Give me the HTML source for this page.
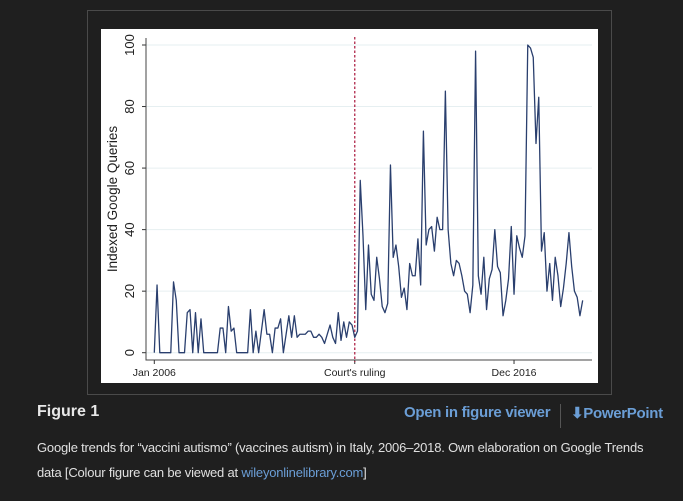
<!DOCTYPE html>
<html><head><meta charset="utf-8">
<style>
body{margin:0;width:683px;height:501px;background:#1f1f1f;overflow:hidden;font-family:"Liberation Sans",sans-serif;position:relative}
#frame{position:absolute;left:87px;top:10px;width:525px;height:385px;border:1px solid #4a4a4a;box-sizing:border-box}
#chart{position:absolute;left:101px;top:29px}
.t{position:absolute;white-space:nowrap}
</style></head><body>
<div id="frame"></div>
<svg id="chart" width="497" height="354" style="background:#fff">
<g id="g" transform="translate(-101,-29)"></g>
</svg>
<div class="t" style="left:37px;top:403px;color:#e8e8e8;font-weight:bold;font-size:16px">Figure 1</div>
<div class="t" style="left:404px;top:404px;color:#6b9ed6;font-size:15px;font-weight:bold;letter-spacing:-0.3px">Open in figure viewer</div>
<div style="position:absolute;left:560px;top:404px;width:1px;height:24px;background:#555"></div>
<div class="t" style="left:571px;top:404px;color:#6b9ed6;font-size:15px;font-weight:bold;letter-spacing:-0.3px">⬇PowerPoint</div>
<div class="t" style="left:37px;top:440px;color:#e0e0e0;font-size:13px;letter-spacing:-0.2px">Google trends for “vaccini autismo” (vaccines autism) in Italy, 2006–2018. Own elaboration on Google Trends</div>
<div class="t" style="left:37px;top:465px;color:#e0e0e0;font-size:13px;letter-spacing:-0.2px">data [Colour figure can be viewed at <span style="color:#6b9ed6">wileyonlinelibrary.com</span>]</div>
<script>
const values=[0,22,0,0,0,0,0,23,17,0,0,0,13,14,0,13,0,11,0,0,0,0,0,0,8,8,0,15,7,8,0,0,0,0,0,14,0,7,0,7,14,6,6,0,8,8,11,0,6,12,5,12,5,6,6,6,7,7,5,5,6,5,3,6,9,5,3,13,4,10,5,10,9,5,7,56,38,14,35,19,17,31,24,15,13,16,61,31,35,28,18,21,14,29,25,25,37,22,72,35,40,41,33,44,40,40,85,40,29,25,30,29,25,20,19,13,22,98,25,19,31,14,24,27,40,28,26,12,17,24,41,19,38,34,31,38,100,99,96,68,83,33,39,20,29,17,31,25,15,21,29,39,28,20,18,12,17];
const yTicks=[0,20,40,60,80,100];
const xTickMonths=[0,73,131];
const xTickLabels=["Jan 2006","Court's ruling","Dec 2016"];
const rulingMonth=73;
const NS="http://www.w3.org/2000/svg";
const g=document.getElementById('g');
const X=m=>154.3+m*2.746, Y=v=>352.7-v*3.077;
function el(t,a){const e=document.createElementNS(NS,t);for(const k in a)e.setAttribute(k,a[k]);g.appendChild(e);return e;}
yTicks.forEach(v=>{
 const l=el('line',{x1:146,x2:592,y1:Y(v),y2:Y(v),stroke:'#e6eff1','stroke-width':1});
 
 
 const tk=el('line',{x1:142,x2:146,y1:Y(v),y2:Y(v),stroke:'#333'});
 
 
 const t=el('text',{x:0,y:0,transform:`translate(134,${Y(v)}) rotate(-90)`,'text-anchor':'middle','font-size':13,fill:'#222'});
 t.textContent=v;
 
 
});
const ax=el('path',{d:'M146,38 V360 H592',fill:'none',stroke:'#444','stroke-width':1});


xTickMonths.forEach((m,i)=>{
 const tk=el('line',{x1:X(m),x2:X(m),y1:360,y2:364,stroke:'#333'});
 
 
 const t=el('text',{x:X(m),y:376,'text-anchor':'middle','font-size':10.5,fill:'#222'});
 t.textContent=xTickLabels[i];
 
 
});
const yt=el('text',{x:0,y:0,transform:'translate(117,199) rotate(-90)','text-anchor':'middle','font-size':13.5,fill:'#222'});
yt.textContent='Indexed Google Queries';


const rl=el('line',{x1:X(rulingMonth),x2:X(rulingMonth),y1:37,y2:362,stroke:'#b0284a','stroke-width':1.3,'stroke-dasharray':'2.5,2'});


const p=el('polyline',{points:values.map((v,i)=>X(i)+','+Y(v)).join(' '),fill:'none',stroke:'#2a3f6e','stroke-width':1.3,'stroke-linejoin':'round'});


</script>
</body></html>
